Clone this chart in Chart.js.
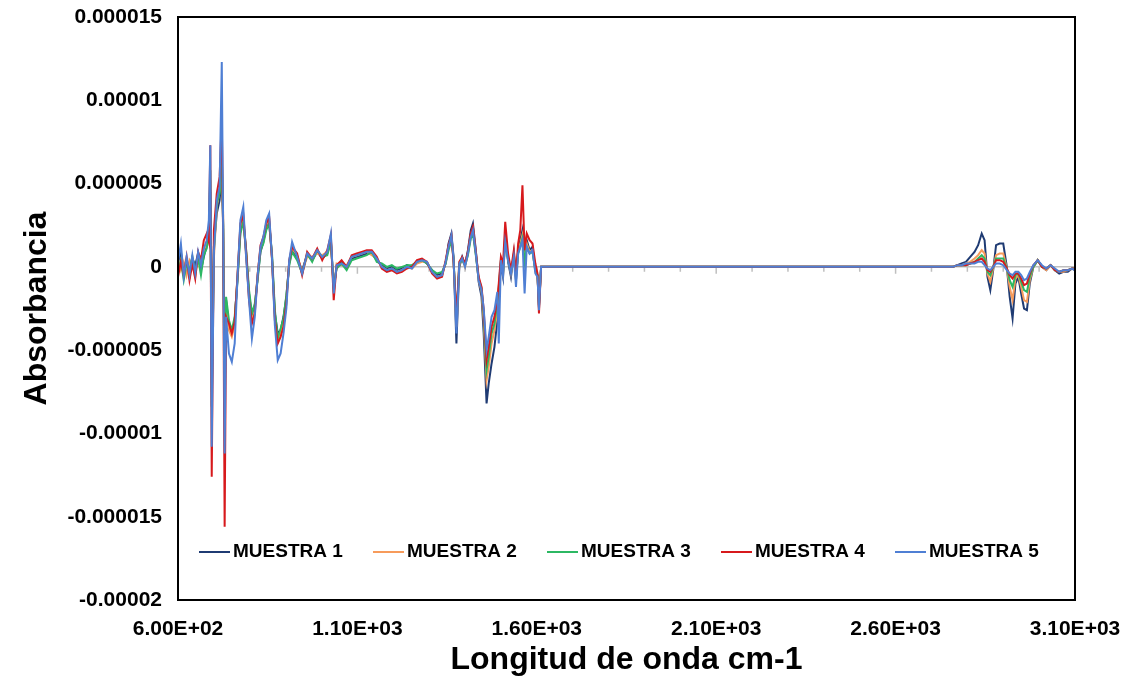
<!DOCTYPE html>
<html>
<head>
<meta charset="utf-8">
<script src="https://cdn.jsdelivr.net/npm/chart.js@4.4.1/dist/chart.umd.min.js"></script>
<style>
  html, body { margin: 0; padding: 0; background: #fff; }
</style>
</head>
<body>
<canvas id="myChart" width="1134" height="679"></canvas>
<script>
// longitud de onda (cm-1)
const longitud = [
  600, 608, 616, 624, 632, 640, 648, 656, 664, 672, 680, 686, 690, 694, 700, 708, 716, 722, 726, 730, 734, 742, 750, 758, 766, 774, 782, 790, 798, 806, 814, 822, 830, 838, 846, 854, 862, 870, 878, 886, 894, 902, 910,
  918, 932, 946, 960, 974, 988, 1002, 1016, 1026, 1034, 1042, 1056, 1070, 1084, 1098, 1112, 1126, 1140, 1154, 1168, 1182, 1196, 1210, 1224, 1238, 1252, 1266, 1280, 1294, 1308, 1322, 1336, 1346,
  1354, 1362, 1368, 1376, 1384, 1392, 1400, 1408, 1416, 1422, 1430, 1438, 1446, 1452, 1460, 1466, 1474, 1482, 1490, 1494, 1500, 1506, 1512, 1520, 1528, 1536, 1542, 1548, 1554, 1560, 1566, 1572, 1580, 1588, 1596, 1602, 1606, 1612,
  2760,
  2772, 2784, 2796, 2808, 2820, 2830, 2840, 2848, 2856, 2864, 2872, 2880, 2890, 2900, 2910, 2918, 2926, 2934, 2942, 2950, 2958, 2966, 2974, 2984, 2996, 3008, 3020, 3032, 3044, 3056, 3068, 3080, 3092, 3100
];

// absorbancia en unidades de 1e-6
const muestra1 = [
  0.2, 0.9, -0.4, 0.4, -0.6, 0.5, 0.1, 0.8, -0.2, 0.6, 1.3, 1.8, 4.5, -6.0, 1.2, 3.2, 4.0, 5.6, 2.5, -7.0, -2.0, -3.6, -4.0, -3.2, -0.6, 2.2, 2.8, 0.8, -1.6, -3.0, -2.4, -0.6, 0.9, 1.5, 2.4, 2.7, 0.6, -2.8, -4.0, -3.8, -3.0, -1.8, 0.2,
  1.0, 0.5, -0.2, 0.7, 0.4, 0.9, 0.5, 0.8, 1.6, -1.3, 0.0, 0.3, -0.1, 0.5, 0.6, 0.7, 0.8, 0.8, 0.4, 0.1, -0.1, 0.0, -0.2, -0.1, 0.1, 0.0, 0.3, 0.4, 0.2, -0.2, -0.5, -0.4, 0.2,
  1.4, 2.0, 0.6, -4.6, 0.0, 0.6, 0.1, 1.0, 2.2, 2.6, 1.0, -0.9, -1.8, -4.0, -8.2, -7.0, -5.8, -4.8, -3.2, -1.8, 0.2, -0.6, 2.0, 0.3, -0.6, 0.8, -0.8, 1.0, 1.6, 2.2, 0.4, 1.6, 1.0, 1.2, -0.2, -0.5, -2.4, 0,
  0,
  0.1, 0.2, 0.3, 0.6, 0.9, 1.3, 2.0, 1.6, -0.6, -1.4, -0.2, 1.3, 1.4, 1.4, 0.0, -1.8, -3.1, -1.0, -0.6, -1.6, -2.5, -2.6, -1.0, 0.0, 0.4, 0.0, -0.2, 0.1, -0.2, -0.4, -0.3, -0.3, -0.1, -0.2
];
const muestra2 = [
  0.5, -0.2, 0.3, -0.5, 0.4, 0.1, -0.6, 0.6, 0.2, 1.0, 1.4, 2.2, 5.2, -7.5, 0.5, 3.6, 4.6, 6.2, 3.0, -8.0, -2.4, -3.8, -4.2, -3.5, -0.4, 2.4, 3.0, 0.6, -1.8, -3.2, -2.6, -0.4, 1.1, 1.6, 2.5, 2.9, 0.4, -3.0, -4.5, -4.0, -3.3, -2.0, 0.3,
  1.1, 0.7, -0.3, 0.6, 0.6, 0.8, 0.7, 0.9, 1.7, -1.5, 0.2, 0.1, 0.1, 0.6, 0.7, 0.8, 0.9, 0.7, 0.5, 0.0, -0.2, -0.1, -0.3, -0.2, 0.0, -0.1, 0.2, 0.3, 0.3, -0.3, -0.6, -0.5, 0.3,
  1.2, 1.8, 0.4, -3.6, 0.1, 0.5, 0.0, 0.8, 1.9, 2.3, 0.8, -0.8, -1.5, -3.2, -6.8, -6.0, -4.6, -3.8, -2.6, -1.4, 0.3, -0.4, 1.8, 0.5, -0.4, 0.6, -0.6, 0.9, 1.4, 1.9, 0.2, 1.4, 0.9, 1.0, -0.3, -0.6, -2.5, 0,
  0,
  0.1, 0.1, 0.2, 0.3, 0.5, 0.7, 1.0, 0.8, -0.4, -0.9, -0.1, 0.7, 0.8, 0.8, -0.1, -1.2, -2.0, -0.7, -0.5, -1.2, -2.0, -2.1, -0.8, 0.0, 0.4, 0.0, -0.2, 0.1, -0.2, -0.3, -0.3, -0.2, -0.1, -0.1
];
const muestra3 = [
  -0.3, 0.4, -0.8, 0.2, -0.2, 0.6, -0.3, 0.5, -0.5, 0.7, 1.1, 1.9, 5.8, -8.4, 1.0, 3.8, 4.4, 6.8, 2.2, -9.0, -1.8, -3.2, -3.8, -3.0, -0.8, 2.0, 2.7, 1.0, -1.4, -2.8, -2.2, -0.8, 1.0, 1.4, 2.2, 2.6, 0.8, -2.6, -4.3, -3.7, -3.1, -1.7, 0.1,
  0.9, 0.4, -0.4, 0.8, 0.3, 1.0, 0.6, 0.7, 1.5, -1.2, -0.1, 0.2, -0.2, 0.4, 0.5, 0.6, 0.7, 0.9, 0.3, 0.2, 0.0, 0.1, -0.1, 0.0, 0.1, 0.1, 0.3, 0.4, 0.2, -0.2, -0.4, -0.3, 0.2,
  1.0, 1.6, 0.5, -3.2, 0.2, 0.4, 0.1, 0.7, 1.7, 2.0, 0.7, -0.7, -1.3, -2.8, -6.2, -5.4, -4.0, -3.4, -2.2, -1.2, 0.4, -0.3, 1.6, 0.4, -0.3, 0.7, -0.5, 0.8, 1.2, 1.7, 0.3, 1.2, 0.8, 0.9, -0.2, -0.5, -2.3, 0,
  0,
  0.1, 0.1, 0.1, 0.2, 0.3, 0.5, 0.7, 0.5, -0.3, -0.5, 0.0, 0.5, 0.5, 0.5, -0.1, -0.8, -1.2, -0.5, -0.4, -0.9, -1.4, -1.5, -0.6, 0.0, 0.4, 0.0, -0.1, 0.1, -0.2, -0.3, -0.2, -0.2, -0.1, -0.1
];
const muestra4 = [
  -0.6, 0.3, -0.5, 0.6, -0.8, 0.2, -0.7, 0.9, 0.4, 1.6, 2.0, 1.5, 7.3, -12.6, 2.2, 4.4, 5.4, 8.9, 1.5, -15.6, -3.0, -3.4, -4.0, -3.3, -0.5, 2.6, 3.1, 0.9, -2.0, -3.4, -2.8, -0.5, 1.3, 1.8, 2.6, 3.0, 0.5, -3.2, -4.6, -4.2, -3.6, -2.2, 0.4,
  1.2, 0.8, -0.5, 0.9, 0.5, 1.1, 0.4, 1.0, 1.9, -2.0, 0.1, 0.4, 0.0, 0.7, 0.8, 0.9, 1.0, 1.0, 0.6, -0.1, -0.3, -0.2, -0.4, -0.3, -0.1, 0.0, 0.4, 0.5, 0.3, -0.4, -0.7, -0.6, 0.4,
  1.3, 1.9, 0.3, -3.0, 0.3, 0.6, 0.2, 0.9, 2.0, 2.4, 0.9, -0.6, -1.2, -2.6, -5.6, -4.8, -3.6, -3.0, -2.0, -1.0, 0.6, 0.2, 2.7, 0.8, -0.2, 1.0, -0.4, 1.4, 2.2, 4.9, 1.0, 2.0, 1.6, 1.4, 0.2, -0.4, -2.8, 0,
  0,
  0.1, 0.1, 0.1, 0.2, 0.3, 0.4, 0.5, 0.3, -0.2, -0.3, 0.0, 0.4, 0.4, 0.3, -0.1, -0.5, -0.7, -0.4, -0.4, -0.7, -1.1, -1.0, -0.4, 0.1, 0.4, 0.0, -0.1, 0.1, -0.2, -0.3, -0.2, -0.2, -0.1, -0.1
];
const muestra5 = [
  0.3, 1.4, -0.6, 0.6, -0.5, 0.7, -0.4, 0.9, 0.1, 1.1, 1.6, 2.8, 7.3, -10.8, 0.8, 4.0, 4.8, 12.3, 2.0, -11.2, -3.0, -5.2, -5.7, -4.6, -0.5, 2.8, 3.6, 0.5, -2.0, -4.3, -3.0, -0.5, 1.2, 1.8, 2.8, 3.2, 0.5, -3.5, -5.6, -5.2, -4.0, -2.5, 0.4,
  1.5, 0.6, -0.4, 0.8, 0.5, 1.0, 0.6, 0.9, 2.0, -1.6, 0.1, 0.2, 0.0, 0.6, 0.7, 0.8, 0.9, 0.9, 0.5, 0.0, -0.2, -0.1, -0.3, -0.2, 0.0, -0.1, 0.3, 0.4, 0.3, -0.3, -0.6, -0.5, 0.3,
  1.2, 1.9, 0.5, -4.0, 0.2, 0.5, 0.0, 0.8, 1.8, 2.2, 0.8, -0.8, -1.4, -2.5, -5.0, -4.2, -3.0, -2.6, -1.5, -4.6, 0.4, -0.5, 1.5, 0.4, -0.4, 0.6, -1.2, 0.8, 1.2, 1.6, -1.6, 1.2, 0.8, 1.0, -0.4, -0.6, -2.6, 0,
  0,
  0.1, 0.1, 0.2, 0.2, 0.2, 0.3, 0.3, 0.1, -0.1, -0.2, 0.0, 0.2, 0.2, 0.1, -0.2, -0.4, -0.5, -0.3, -0.3, -0.5, -0.8, -0.7, -0.3, 0.1, 0.4, 0.1, -0.1, 0.1, -0.1, -0.3, -0.2, -0.2, -0.1, -0.2
];

const nombres = ['MUESTRA 1', 'MUESTRA 2', 'MUESTRA 3', 'MUESTRA 4', 'MUESTRA 5'];
const series = [muestra1, muestra2, muestra3, muestra4, muestra5];
const colores = ['#1F3B73', '#F79B5B', '#2CB863', '#D7191C', '#4F7FD4'];

const fuente = 'Liberation Sans, Arial, sans-serif';

function puntos(valores) {
  return valores.map((v, i) => ({ x: longitud[i], y: v * 1e-6 }));
}

function cientifico(v) {
  const partes = v.toExponential(2).split('e');
  const n = parseInt(partes[1], 10);
  return partes[0] + 'E' + (n < 0 ? '-' : '+') + String(Math.abs(n)).padStart(2, '0');
}

// linea del cero con marcas
const lineaCero = {
  id: 'lineaCero',
  beforeDatasetsDraw(chart) {
    const { ctx, chartArea, scales } = chart;
    const y0 = scales.y.getPixelForValue(0);
    ctx.save();
    ctx.strokeStyle = '#BFBFBF';
    ctx.lineWidth = 1.5;
    ctx.beginPath();
    ctx.moveTo(chartArea.left, y0);
    ctx.lineTo(chartArea.right, y0);
    for (let v = 700; v < 3100; v += 100) {
      const x = scales.x.getPixelForValue(v);
      const largo = v % 500 === 100 ? 7 : 5;
      ctx.moveTo(x, y0);
      ctx.lineTo(x, y0 + largo);
    }
    ctx.stroke();
    ctx.restore();
  }
};

// marco y leyenda
const marco = {
  id: 'marco',
  afterDraw(chart) {
    const { ctx, chartArea } = chart;
    ctx.save();
    ctx.strokeStyle = '#000';
    ctx.lineWidth = 2;
    ctx.strokeRect(chartArea.left, chartArea.top, chartArea.right - chartArea.left, chartArea.bottom - chartArea.top);

    const yl = chartArea.bottom - 48;
    ctx.font = 'bold 19px ' + fuente;
    ctx.textBaseline = 'middle';
    ctx.textAlign = 'left';
    nombres.forEach((nombre, i) => {
      const x = chartArea.left + 21 + i * 174;
      ctx.strokeStyle = colores[i];
      ctx.lineWidth = 2;
      ctx.beginPath();
      ctx.moveTo(x, yl);
      ctx.lineTo(x + 31, yl);
      ctx.stroke();
      ctx.fillStyle = '#000';
      ctx.fillText(nombre, x + 34, yl);
    });
    ctx.restore();
  }
};

const ctx = document.getElementById('myChart');

const myChart = new Chart(ctx, {
  type: 'line',
  data: {
    datasets: series.map((s, i) => ({
      label: nombres[i],
      data: puntos(s),
      borderColor: colores[i],
      backgroundColor: colores[i],
      borderWidth: 2,
      pointRadius: 0,
      tension: 0,
      order: 5 - i
    }))
  },
  options: {
    responsive: false,
    animation: false,
    layout: {
      padding: { top: 17, right: 59, left: 0, bottom: 0 }
    },
    plugins: {
      legend: { display: false },
      tooltip: { enabled: false }
    },
    scales: {
      x: {
        type: 'linear',
        min: 600,
        max: 3100,
        afterFit(scale) {
          scale.height = 79;
          scale.paddingLeft = 0;
          scale.paddingRight = 0;
        },
        grid: { display: false },
        border: { display: false },
        ticks: {
          stepSize: 500,
          padding: 9,
          maxRotation: 0,
          autoSkip: false,
          color: '#000',
          font: { family: fuente, size: 21, weight: 'bold' },
          callback: (v) => cientifico(v)
        },
        title: {
          display: true,
          text: 'Longitud de onda cm-1',
          color: '#000',
          font: { family: fuente, size: 32, weight: 'bold' },
          padding: { top: 0, bottom: 0 }
        }
      },
      y: {
        min: -0.00002,
        max: 0.000015,
        afterFit(scale) {
          scale.width = 178;
          scale.paddingTop = 0;
          scale.paddingBottom = 0;
        },
        grid: { display: false },
        border: { display: false },
        ticks: {
          stepSize: 0.000005,
          padding: 8,
          color: '#000',
          font: { family: fuente, size: 21, weight: 'bold' },
          callback: (v) => Number(v.toFixed(6)).toString()
        },
        title: {
          display: true,
          text: 'Absorbancia',
          color: '#000',
          font: { family: fuente, size: 32, weight: 'bold' },
          padding: { top: 18, bottom: 0 }
        }
      }
    }
  },
  plugins: [lineaCero, marco]
});
</script>
</body>
</html>
